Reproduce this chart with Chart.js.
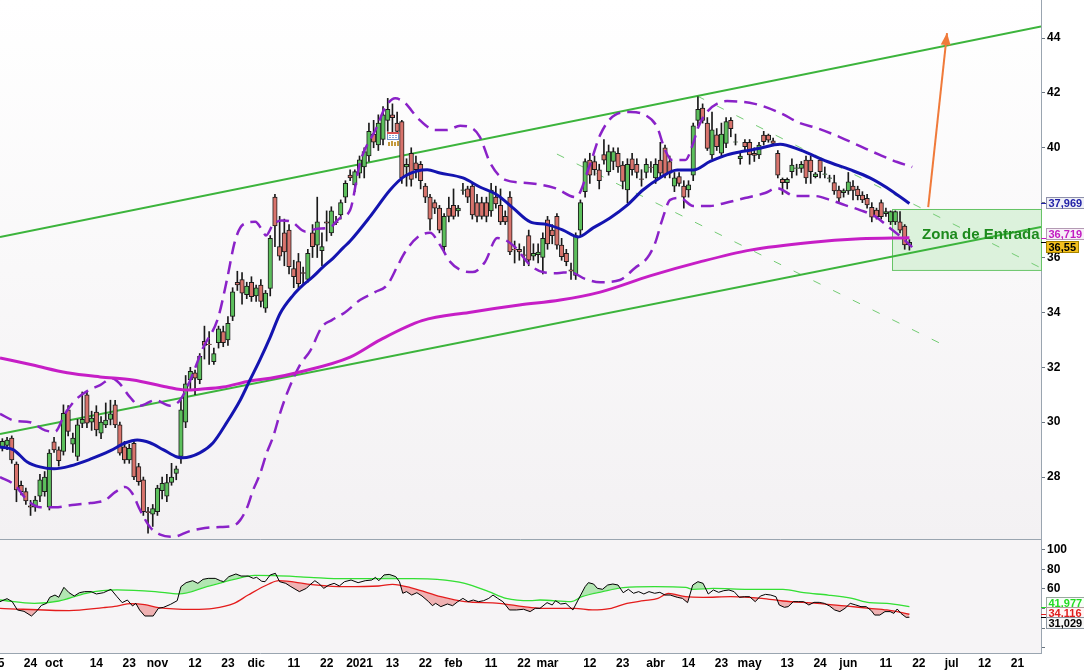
<!DOCTYPE html>
<html>
<head>
<meta charset="utf-8">
<script src="https://cdn.jsdelivr.net/npm/chart.js@4.4.0/dist/chart.umd.min.js"></script>
<style>
  html, body { margin: 0; padding: 0; background: #fff; }
  canvas { display: block; }
</style>
</head>
<body>
<canvas id="precio" width="1084" height="539"></canvas>
<canvas id="oscilador" width="1084" height="131"></canvas>
<script>
// Sesiones contadas desde el 1 oct 2020 (0). La primera vela es el 16 sep (-11)
const primerDia = -11

// Velas diarias
const apertura = [
  29.05, 29.15, 29.42, 28.47, 27.70, 27.47, 26.95, 26.90, 27.30, 27.47,
  26.90, 29.28, 28.99, 28.93, 30.45, 29.20, 28.75, 29.95, 31.00, 30.00,
  30.37, 29.60, 29.90, 30.10, 30.63, 29.90, 29.10, 28.62, 29.23, 28.38,
  27.90, 26.74, 26.65, 26.74, 27.50, 27.30, 27.80, 28.13, 28.75, 30.00,
  31.55, 31.80, 31.55, 32.95, 32.85, 32.20, 32.90, 33.30, 33.00, 33.85,
  35.10, 35.20, 34.65, 35.10, 34.60, 35.00, 34.15, 34.87, 38.20, 36.40,
  36.90, 37.00, 35.60, 35.85, 35.45, 35.20, 36.90, 36.45, 36.25, 37.30,
  36.90, 37.30, 37.55, 38.20, 39.00, 38.65, 39.07, 39.30, 39.70, 40.50,
  40.10, 40.30, 41.00, 41.20, 40.90, 40.95, 39.30, 39.80, 39.45, 39.40,
  38.60, 38.20, 38.00, 37.80, 36.40, 37.80, 37.90, 37.70, 38.45, 38.50,
  38.60, 38.00, 38.00, 38.00, 37.70, 38.20, 37.90, 37.50, 38.20, 36.30,
  36.30, 36.10, 36.80, 36.05, 36.10, 36.00, 37.37, 37.00, 37.50, 36.45,
  36.15, 35.55, 35.35, 37.00, 38.40, 39.55, 39.50, 39.20, 39.75, 39.13,
  39.50, 39.80, 39.37, 38.46, 39.60, 39.40, 38.87, 39.10, 39.30, 38.90,
  39.55, 40.00, 39.50, 38.60, 38.95, 38.60, 38.46, 39.00, 41.00, 41.45,
  40.90, 39.74, 40.47, 39.80, 40.16, 41.00, 40.20, 39.60, 40.20, 40.20,
  39.80, 39.74, 40.46, 40.46, 40.25, 39.80, 38.85, 38.73, 39.13, 39.25,
  39.25, 39.55, 39.55, 38.95, 39.55, 39.03, 38.88, 38.73, 38.46, 38.36,
  38.43, 38.60, 38.49, 38.28, 38.16, 37.83, 37.73, 38.00, 37.60, 37.30,
  37.30, 37.30, 37.15, 36.46
]
const maximo = [
  29.40, 29.45, 29.50, 28.55, 27.85, 27.60, 27.15, 27.30, 28.10, 28.20,
  29.00, 29.45, 29.10, 30.63, 30.60, 29.60, 30.10, 31.10, 31.10, 30.40,
  30.60, 30.20, 30.70, 30.80, 30.80, 30.00, 29.30, 29.20, 29.30, 28.50,
  28.00, 26.90, 27.00, 27.70, 28.00, 28.10, 28.50, 28.40, 30.80, 31.70,
  32.00, 31.90, 32.50, 33.50, 33.30, 32.70, 33.50, 33.50, 33.85, 34.90,
  35.50, 35.45, 35.10, 35.30, 35.00, 35.20, 34.80, 36.80, 38.30, 37.50,
  37.40, 37.20, 35.90, 36.15, 35.65, 36.30, 37.20, 38.20, 36.90, 37.70,
  37.85, 37.50, 38.10, 38.80, 39.20, 39.20, 39.70, 40.00, 40.90, 41.00,
  41.20, 41.50, 41.80, 41.60, 41.30, 41.00, 39.60, 40.00, 39.70, 39.50,
  38.70, 38.30, 38.10, 37.90, 37.60, 38.20, 38.50, 37.90, 38.70, 38.60,
  38.70, 38.30, 38.20, 38.20, 38.70, 38.60, 38.50, 37.70, 38.40, 36.60,
  36.50, 36.40, 37.00, 36.50, 36.50, 36.90, 37.50, 37.20, 37.60, 36.70,
  36.30, 35.80, 36.90, 38.10, 39.60, 39.80, 39.70, 39.40, 40.30, 40.10,
  40.00, 40.00, 39.50, 39.60, 39.80, 39.60, 39.20, 39.60, 39.50, 39.60,
  40.20, 40.10, 39.70, 39.10, 39.10, 38.80, 38.80, 40.90, 41.86, 41.60,
  41.10, 41.30, 40.70, 40.90, 41.10, 41.10, 40.50, 39.80, 40.30, 40.30,
  40.00, 40.20, 40.60, 40.50, 40.35, 39.90, 38.90, 38.90, 39.60, 39.40,
  39.50, 39.70, 39.70, 39.10, 39.60, 39.30, 39.00, 39.00, 38.60, 38.50,
  39.10, 38.80, 38.60, 38.40, 38.30, 38.00, 37.80, 38.10, 37.80, 37.70,
  37.70, 37.67, 37.20, 36.65
]
const minimo = [
  28.95, 29.00, 28.50, 27.10, 27.35, 27.00, 26.60, 26.75, 27.10, 27.30,
  26.80, 28.90, 28.40, 28.80, 29.50, 28.90, 28.60, 29.80, 29.80, 29.70,
  29.50, 29.40, 29.80, 29.90, 29.80, 28.80, 28.50, 28.50, 27.90, 27.70,
  26.60, 25.95, 26.20, 26.60, 27.20, 27.10, 27.70, 27.90, 28.50, 29.80,
  31.20, 31.00, 31.40, 32.30, 32.10, 32.10, 32.70, 32.75, 32.80, 33.70,
  34.80, 34.30, 34.50, 34.40, 34.40, 34.20, 34.00, 34.60, 36.40, 35.90,
  35.70, 35.40, 34.90, 34.90, 35.00, 35.10, 36.00, 36.00, 35.70, 36.60,
  36.80, 37.20, 37.40, 38.00, 38.80, 38.40, 38.90, 38.90, 39.50, 40.00,
  39.90, 40.10, 40.60, 40.50, 40.40, 38.70, 38.60, 38.60, 38.90, 38.50,
  38.00, 37.00, 37.60, 36.90, 36.20, 37.30, 37.40, 37.50, 38.30, 38.00,
  37.40, 37.30, 37.40, 37.30, 37.50, 37.80, 37.20, 37.20, 36.10, 35.80,
  35.90, 35.70, 35.70, 35.90, 35.80, 35.40, 36.30, 36.50, 36.30, 35.90,
  35.70, 35.20, 35.20, 36.80, 38.20, 38.70, 39.00, 38.50, 39.40, 39.00,
  39.20, 39.10, 38.50, 38.00, 39.00, 38.90, 38.60, 38.90, 39.10, 38.70,
  38.90, 38.90, 38.90, 38.40, 38.60, 37.80, 38.20, 38.80, 40.80, 40.90,
  39.90, 39.60, 39.90, 39.70, 40.00, 40.40, 40.10, 39.40, 39.90, 39.40,
  39.50, 39.60, 40.10, 40.20, 40.10, 38.90, 38.30, 38.50, 38.90, 39.00,
  39.10, 38.70, 38.70, 38.90, 38.90, 38.90, 38.75, 38.30, 38.00, 38.20,
  38.30, 38.10, 38.10, 38.00, 37.80, 37.30, 37.40, 37.40, 37.50, 37.20,
  37.20, 36.90, 36.30, 36.27
]
const cierre = [
  29.30, 29.35, 28.62, 27.53, 27.47, 27.13, 26.90, 27.16, 27.90, 28.00,
  28.87, 28.99, 28.60, 30.32, 29.66, 29.42, 29.90, 30.10, 29.96, 30.15,
  29.72, 30.00, 30.08, 30.30, 29.90, 28.87, 28.62, 29.05, 28.00, 27.83,
  26.74, 26.70, 26.85, 27.60, 27.77, 27.80, 28.00, 28.30, 30.45, 31.40,
  31.85, 31.60, 32.40, 32.80, 32.82, 32.50, 33.40, 32.90, 33.60, 34.75,
  35.00, 34.70, 34.96, 34.57, 34.90, 34.40, 34.70, 36.70, 37.15, 36.05,
  36.20, 35.67, 35.30, 35.05, 35.42, 36.15, 36.40, 37.30, 36.40, 37.25,
  37.70, 37.27, 38.00, 38.70, 38.90, 39.13, 39.56, 39.86, 40.60, 40.20,
  40.90, 41.20, 41.40, 41.10, 40.60, 38.90, 39.40, 38.85, 39.20, 38.80,
  38.20, 37.40, 37.80, 37.00, 37.50, 37.50, 37.50, 37.80, 38.47, 38.20,
  37.55, 37.50, 37.50, 37.50, 38.46, 37.95, 37.30, 37.30, 36.20, 36.28,
  36.20, 36.08, 35.90, 36.15, 36.20, 36.70, 36.50, 36.80, 36.45, 36.03,
  35.85, 35.50, 36.80, 38.00, 39.50, 39.00, 39.20, 38.80, 39.55, 39.86,
  39.86, 39.30, 38.77, 39.40, 39.20, 39.10, 38.85, 39.40, 39.28, 39.40,
  39.07, 39.00, 39.07, 38.90, 38.70, 38.20, 38.65, 40.80, 41.40, 41.00,
  39.98, 40.65, 40.04, 40.50, 40.95, 40.70, 40.22, 39.70, 40.04, 39.74,
  39.72, 40.10, 40.22, 40.28, 40.16, 39.00, 38.73, 38.85, 39.37, 39.27,
  39.40, 38.90, 39.13, 39.05, 39.13, 39.05, 38.90, 38.43, 38.16, 38.44,
  38.76, 38.45, 38.25, 38.10, 37.92, 37.47, 37.49, 37.49, 37.67, 37.67,
  37.67, 37.00, 36.46, 36.55
]

// Media de 20 sesiones (azul) [sesión, precio]
const media20 = [
  [-11.5, 29.1], [-8.7, 29.0], [-5.7, 28.55], [-3, 28.37], [0, 28.3], [3.4, 28.4], [7.7, 28.65],
  [11.9, 28.95], [15.1, 29.24], [17.7, 29.35], [20.4, 29.25], [23.2, 29.0], [26.2, 28.73], [27.4, 28.7],
  [31, 28.88], [33.8, 29.24], [36.8, 30.0], [39.6, 30.8], [41.7, 31.54], [43.8, 32.27], [46, 33.1],
  [48.1, 33.96], [50.9, 34.63], [53, 35.0], [55.1, 35.3], [57.2, 35.65], [59.4, 35.98], [61.5, 36.35],
  [63, 36.6], [67.2, 37.48], [71.5, 38.46], [74.3, 38.93], [77.2, 39.15], [79.4, 39.2], [82.1, 39.08],
  [87, 38.9], [90.6, 38.57], [94.3, 38.28], [97.7, 37.8], [101.3, 37.3], [104.9, 37.2], [108.3, 37.0],
  [111.5, 36.75], [114.7, 37.08], [118.3, 37.44], [121.9, 37.9], [125.3, 38.46], [128.9, 38.9],
  [132.6, 39.19], [136, 39.19], [139.6, 39.5], [143.2, 39.74], [146.6, 39.87], [150.2, 39.98],
  [154.5, 40.13], [158.7, 39.92], [164.5, 39.5], [169.4, 39.2], [173.6, 38.9], [178.5, 38.4], [182, 37.969]
]
// Bandas de Bollinger
const bollSup = [
  [-11.5, 30.3], [-8.3, 30.05], [-5.1, 30.0], [-1.9, 29.7], [0.2, 29.65], [2.3, 30.3], [4.5, 30.8],
  [7.2, 31.15], [9.8, 31.35], [12.3, 31.6], [14, 31.4], [16.2, 30.9], [18.3, 30.6], [21.5, 30.8],
  [24.7, 30.6], [26.8, 30.8], [28.9, 31.5], [31.7, 32.7], [34.9, 33.8], [36.8, 35.2], [38.5, 36.6],
  [40.2, 37.2], [42.8, 37.3], [44.3, 37.0], [45.1, 36.8], [46.6, 37.2], [48.5, 37.35], [50.6, 37.3],
  [53.4, 36.95], [56, 37.05], [58.7, 37.1], [60.9, 37.45], [63, 37.73], [65.1, 39.45], [68.7, 40.76],
  [70.4, 41.45], [72.6, 41.8], [74.7, 41.63], [77.4, 41.08], [81.1, 40.65], [83.6, 40.65], [86.4, 40.8],
  [88.9, 40.72], [90.6, 40.4], [92.8, 39.45], [96, 38.83], [100.6, 38.72], [106.6, 38.53], [111, 38.2],
  [114, 39.37], [116.2, 40.47], [119.4, 41.2], [122.6, 41.3], [125.7, 41.2], [128.3, 40.76], [130, 39.92],
  [131.5, 39.55], [134.3, 39.55], [136, 40.17], [137, 40.72], [138.9, 41.3], [143.2, 41.7], [149.1, 41.6],
  [154.5, 41.27], [158.7, 40.9], [162.3, 40.72], [167.2, 40.39], [171.5, 40.06], [175.7, 39.74],
  [179.4, 39.48], [182.6, 39.3]
]
const bollInf = [
  [-11.5, 28.0], [-8.3, 27.7], [-5.7, 27.16], [-2.9, 26.9], [0.2, 26.9], [3.8, 26.98], [7.7, 27.05],
  [10.9, 27.16], [13, 27.45], [15.1, 27.64], [16.6, 27.42], [18.3, 26.8], [20.4, 26.18], [22.6, 25.9],
  [25.3, 25.82], [28.9, 26.03], [32.1, 26.14], [35.3, 26.18], [38.1, 26.22], [39.6, 26.43], [41.1, 26.9],
  [42.3, 27.5], [43.8, 28.1], [45.3, 28.9], [46.6, 29.46], [48.1, 30.33], [49.6, 31.06], [52.3, 32.08],
  [54.5, 32.6], [57, 33.47], [59.1, 33.72], [61.9, 34.0], [65.1, 34.45], [68.3, 34.74], [70.9, 35.0],
  [73.2, 35.73], [74.7, 36.2], [77.4, 36.75], [80, 36.9], [82.1, 36.46], [84.3, 35.84], [86.4, 35.55],
  [89.1, 35.47], [91.7, 35.84], [94.3, 36.71], [96, 36.64], [98.1, 36.38], [101.3, 35.73], [104, 35.47],
  [107, 35.43], [109.8, 35.47], [113, 35.22], [116.2, 35.1], [120.4, 35.18], [123.6, 35.62],
  [126.2, 35.98], [127.9, 36.53], [129.4, 37.37], [131.1, 38.1], [133.2, 38.17], [136, 37.88],
  [139.6, 37.88], [142.8, 37.99], [147, 38.17], [151.3, 38.35], [153.8, 38.53], [157.7, 38.24],
  [161.9, 38.24], [165.1, 38.1], [168.3, 37.91], [171.5, 37.73], [174.7, 37.5], [177.9, 37.07],
  [180, 36.78], [182.6, 36.38]
]
// Media de 200 sesiones (magenta)
const media200 = [
  [-11.5, 32.34], [-4.5, 32.08], [2.8, 31.8], [9.8, 31.65], [16.8, 31.54], [24, 31.28], [28.3, 31.17],
  [31.1, 31.2], [36, 31.28], [41.7, 31.5], [46, 31.6], [52.3, 31.83], [63, 32.37], [69.4, 33.0],
  [78.3, 33.7], [88.3, 34.0], [99, 34.27], [107.7, 34.45], [116.2, 34.74], [126.8, 35.33],
  [137.4, 35.84], [148.1, 36.27], [160.9, 36.55], [171.5, 36.68], [182, 36.719]
]
// Canal alcista, líneas guía y flecha de objetivo
const tendenciaSup = [[-11.5, 36.75], [210, 44.42]]
const tendenciaInf = [[-11.5, 29.57], [210, 37.11]]
const guiaA = [[107, 39.77], [190.6, 32.7]]
const guiaB = [[136.8, 41.89], [210, 35.62]]
const flecha = [[186, 37.84], [190, 44.18]]
const zonaDias = [178.3, 210]
const zonaPrecios = [37.77, 35.55]
const textoZona = [197.2, 36.82]
const icono = [70.9, 40.57]

// Oscilador inferior
const osc = [
  [-11.5, 47], [-10, 50.1], [-8.9, 47], [-7.8, 38.5], [-6.4, 37.1], [-4.8, 32.3], [-3.6, 37.8], [-2.7, 43.2],
  [-1.6, 45.3], [-0.9, 51.5], [0.2, 53.8], [1, 51.5], [2.1, 61.7], [3.2, 56.2], [4.3, 52.8], [5.4, 56.2],
  [6.5, 57.3], [7.9, 57.3], [9, 54.9], [10.5, 56.2], [12.1, 59.7], [13.4, 52.1], [14.5, 46], [15.6, 48.7],
  [16.7, 42.6], [17.4, 45.3], [18.2, 38.5], [19.3, 32.3], [21.1, 32.3], [22.2, 40.2], [23.3, 41.2],
  [24.8, 44.3], [26.2, 48], [27, 62.4], [28.1, 66.5], [29.5, 68.5], [30.6, 65.8], [31.7, 69.9], [32.8, 70.9],
  [34.3, 70.9], [35.4, 68.5], [36.1, 67.5], [37.2, 72.7], [38.7, 75.4], [39.8, 73.3], [41.3, 73.3],
  [42.4, 70.9], [43.1, 72], [44.2, 67.9], [44.9, 67.5], [46, 74.4], [47.1, 76.1], [48, 67.5], [49.3, 65.8],
  [50.4, 62.4], [52.2, 57.3], [53.7, 60.7], [54.4, 64.1], [55.5, 68.5], [56.3, 65.8], [57.4, 60.7],
  [58.5, 64.1], [59.6, 65.8], [60.7, 63.1], [61.8, 67.5], [63.2, 69.2], [64.7, 66.5], [66.2, 68.5],
  [67.6, 69.2], [68.4, 72], [69.1, 68.5], [70.2, 74.4], [71.3, 75], [72.7, 72.7], [73.5, 67.5], [74.2, 55.6],
  [75, 57.3], [76.1, 53.8], [77.2, 56.2], [78.3, 52.8], [79.7, 47], [80.5, 42.9], [81.2, 45.3], [82.3, 41.9],
  [83.7, 44.6], [84.8, 42.9], [85.9, 47], [87, 50.4], [88.1, 47], [89.2, 48.7], [90.3, 47], [91.4, 48],
  [92.5, 50.4], [93.4, 53.8], [94.4, 50.4], [95.5, 47], [96.9, 38.5], [98.4, 38.5], [99.9, 39.2],
  [101.3, 36.8], [102.4, 40.2], [103.4, 40.2], [104.9, 46], [106, 43.6], [106.7, 48], [107.8, 44.6],
  [108.9, 45.3], [110.4, 38.5], [111.5, 48.7], [113, 62.4], [113.7, 66.5], [114.8, 65.1], [115.6, 60.7],
  [116.7, 59.7], [117.8, 64.1], [118.9, 65.1], [120, 64.1], [121.1, 56.2], [122.2, 59.7], [123.3, 55.6],
  [124.4, 57.3], [125.5, 54.9], [126.6, 57.3], [127.8, 55.6], [128.9, 56.6], [130, 53.8], [131.1, 53.8],
  [132.6, 51.5], [133.7, 50.4], [134.8, 46], [135.9, 64.1], [137, 67.5], [138.1, 65.8], [139.2, 54.9],
  [140.3, 59], [141.4, 56.6], [142.5, 58.3], [143.6, 59], [144.7, 57.3], [145.8, 51.5], [146.9, 52.1],
  [148, 52.1], [149.2, 47], [150.3, 52.8], [151.4, 54.5], [152.5, 53.8], [153.6, 52.1], [154.3, 43.6],
  [155.4, 41.2], [156.2, 41.9], [157.3, 47], [158.4, 47], [159.5, 47], [160.6, 43.6], [161.7, 46.3],
  [162.8, 46.3], [163.9, 45.3], [165, 42.6], [166.1, 38.5], [167.2, 36.8], [168.3, 40.2], [169.4, 45.3],
  [170.6, 43.6], [171.7, 41.9], [172.8, 41.9], [173.9, 37.8], [174.6, 33.3], [175.7, 33.3], [176.8, 36.8],
  [177.9, 36.8], [178.7, 35], [179.4, 39.5], [180.2, 35], [181.3, 30.9], [182, 31.029]
]
const oscVerde = [
  [-11.5, 48.7], [-4.2, 45.3], [1, 47.7], [6.8, 55.6], [13.4, 59], [21.5, 57.3], [26.6, 54.9], [32.5, 62.4],
  [38.3, 69.9], [42.7, 74], [47.1, 73.7], [54.4, 72], [61.8, 70.6], [69.1, 70.6], [76.4, 70.6], [81.5, 69.9],
  [87.4, 65.8], [92.5, 57.3], [96.2, 50.4], [101.3, 48], [103.4, 48.7], [110, 47], [112.3, 52.1],
  [116.7, 57.3], [121.1, 61.4], [127.8, 62.4], [134.4, 61.7], [135.9, 59.7], [140.3, 60.7], [147.7, 59.7],
  [155.1, 59.7], [159.5, 56.2], [164.7, 53.8], [169.8, 50.4], [173.5, 46], [177.2, 45.3], [182, 41.977]
]
const oscRojo = [
  [-11.5, 40.2], [3.2, 37.8], [10.5, 40.9], [13.4, 42.5], [16.3, 45], [19.3, 44], [22.2, 41], [29.5, 39.2],
  [33.9, 40.2], [38.3, 45.3], [41.3, 53.8], [45.7, 65.1], [47.8, 68.5], [54.4, 64.8], [61.8, 62.4],
  [69.1, 63.1], [72, 64.8], [76.4, 60.7], [82.3, 52.1], [87.4, 47], [94.7, 45.3], [99.9, 41.9], [103.4, 40.2],
  [110.8, 40.2], [114.5, 38.5], [118.2, 39.8], [121.9, 45.3], [125.5, 48], [128.5, 50.4], [130.7, 55.6],
  [134.4, 52.1], [138.1, 51.5], [144, 52.1], [150.6, 50.4], [155.1, 47.7], [162.4, 45.3], [168.3, 42.6],
  [173.5, 40.2], [177.2, 38.5], [182, 34.116]
]

// Ejes
const ticksPrecio = [28, 30, 32, 34, 36, 38, 40, 42, 44]
const ticksOsc = [0, 10, 20, 30, 40, 50, 60, 70, 80, 90, 100, 110]
const etiquetasOsc = [60, 80, 100]
const diasEtiqueta = [-12, -5, 0, 9, 16, 22, 30, 37, 43, 51, 58, 65, 72, 79, 85, 93, 100, 105, 114, 121,
  128, 135, 142, 148, 156, 163, 169, 177, 184, 191, 198, 205]
const textoEtiqueta = ['15', '24', 'oct', '14', '23', 'nov', '12', '23', 'dic', '11', '22', '2021', '13', '22',
  'feb', '11', '22', 'mar', '12', '23', 'abr', '14', '23', 'may', '13', '24', 'jun', '11', '22', 'jul', '12', '21']
const ultimosPrecio = [37.969, 36.719, 36.55]
const ultimosOsc = [41.977, 34.116, 31.029]

const xMin = -11.5, xMax = 210
const yMin = 25.742, yMax = 45.385
const oscMin = -5.64, oscMax = 111.28

const fuente = '"Liberation Sans", Arial, sans-serif'
Chart.defaults.font.family = fuente
const gris = '#9aa5b0'

const pares = arr => arr.map(([x, y]) => ({x, y}))
const dias = apertura.map((_, i) => primerDia + i)

// Fondo de cada panel
const fondo = {
  id: 'fondo',
  beforeDraw(chart, args, opts) {
    const {ctx, chartArea: a} = chart
    ctx.save()
    if (opts.degradado) {
      const g = ctx.createLinearGradient(0, a.top, 0, a.bottom)
      g.addColorStop(0, '#ffffff')
      g.addColorStop(1, '#f3f1f3')
      ctx.fillStyle = g
    } else {
      ctx.fillStyle = opts.color
    }
    ctx.fillRect(a.left, a.top, a.right - a.left, a.bottom - a.top)
    ctx.restore()
  },
  afterDraw(chart, args, opts) {
    if (!opts.bordeSup) return
    const {ctx, chartArea: a} = chart
    ctx.save()
    ctx.strokeStyle = gris
    ctx.lineWidth = 1
    ctx.beginPath()
    ctx.moveTo(a.left, a.top + 0.5)
    ctx.lineTo(a.right, a.top + 0.5)
    ctx.stroke()
    ctx.restore()
  }
}

// Zona de entrada, punta de flecha e icono
const zona = {
  id: 'zona',
  beforeDatasetsDraw(chart) {
    const {ctx, scales: {x, y}} = chart
    const x0 = x.getPixelForValue(zonaDias[0]), x1 = x.getPixelForValue(zonaDias[1])
    const y0 = y.getPixelForValue(zonaPrecios[0]), y1 = y.getPixelForValue(zonaPrecios[1])
    ctx.save()
    ctx.fillStyle = 'rgba(160, 228, 160, 0.32)'
    ctx.fillRect(x0, y0, x1 - x0, y1 - y0)
    ctx.strokeStyle = '#66c466'
    ctx.lineWidth = 1
    ctx.strokeRect(Math.round(x0) + 0.5, Math.round(y0) + 0.5, x1 - x0, y1 - y0)
    ctx.restore()
  },
  afterDatasetsDraw(chart) {
    const {ctx, scales: {x, y}} = chart
    ctx.save()
    // texto
    ctx.font = `bold 15px ${fuente}`
    ctx.fillStyle = '#1d8a1d'
    ctx.textAlign = 'center'
    ctx.textBaseline = 'middle'
    ctx.fillText('Zona de Entrada', x.getPixelForValue(textoZona[0]), y.getPixelForValue(textoZona[1]))
    // punta de flecha
    const ax = x.getPixelForValue(flecha[0][0]), ay = y.getPixelForValue(flecha[0][1])
    const bx = x.getPixelForValue(flecha[1][0]), by = y.getPixelForValue(flecha[1][1])
    const ang = Math.atan2(by - ay, bx - ax)
    ctx.translate(bx, by)
    ctx.rotate(ang)
    ctx.fillStyle = '#f07a3a'
    ctx.beginPath()
    ctx.moveTo(0, 0)
    ctx.lineTo(-12, -5)
    ctx.lineTo(-12, 5)
    ctx.closePath()
    ctx.fill()
    ctx.restore()
    // icono de calendario
    const px = Math.round(x.getPixelForValue(icono[0])), py = Math.round(y.getPixelForValue(icono[1]))
    ctx.save()
    ctx.fillStyle = '#ffffff'
    ctx.fillRect(px, py, 12, 8)
    ctx.strokeStyle = '#7090c8'
    ctx.strokeRect(px + 0.5, py + 0.5, 11, 7)
    ctx.fillStyle = '#d85050'
    ctx.fillRect(px, py, 12, 2)
    ctx.fillStyle = '#8aa8d8'
    for (let i = 0; i < 3; i++) for (let j = 0; j < 2; j++) ctx.fillRect(px + 2 + i * 3, py + 3 + j * 2, 2, 1)
    ctx.fillStyle = '#c49a3c'
    ctx.fillRect(px + 1, py + 10, 2, 4)
    ctx.fillRect(px + 4, py + 9, 2, 5)
    ctx.fillRect(px + 7, py + 10, 2, 4)
    ctx.fillRect(px + 10, py + 9, 2, 5)
    ctx.restore()
  }
}

// Etiquetas del último valor sobre el eje derecho
const etiquetas = {
  id: 'etiquetas',
  afterDraw(chart, args, opts) {
    const {ctx, chartArea: a, scales: {y}} = chart
    const items = opts.valores.map((v, i) => ({v, yReal: y.getPixelForValue(v), e: opts.estilos[i], i}))
    const orden = [...items].sort((p, q) => p.yReal - q.yReal)
    const pos = orden.map(it => it.yReal)
    for (let k = 0; k < 8; k++) {
      for (let i = 1; i < pos.length; i++) {
        if (pos[i] - pos[i - 1] < opts.separacion) {
          const m = (pos[i] + pos[i - 1]) / 2
          pos[i - 1] = m - opts.separacion / 2
          pos[i] = m + opts.separacion / 2
        }
      }
    }
    orden.forEach((it, k) => { it.y = pos[k] })
    ctx.save()
    ctx.font = `bold 11px ${fuente}`
    ctx.textBaseline = 'middle'
    items.forEach(it => {
      const texto = String(it.v).replace('.', ',')
      const w = Math.ceil(ctx.measureText(texto).width) + 5
      const bx = a.right + 5
      const by = Math.round(it.y) - 6
      ctx.strokeStyle = it.e.color
      ctx.lineWidth = 1
      ctx.beginPath()
      ctx.moveTo(a.right, Math.round(it.yReal) + 0.5)
      ctx.lineTo(a.right + 5, Math.round(it.yReal) + 0.5)
      ctx.stroke()
      ctx.fillStyle = it.e.fondo
      ctx.fillRect(bx, by, w, 12)
      ctx.strokeStyle = it.e.borde
      ctx.strokeRect(bx + 0.5, by + 0.5, w - 1, 11)
      ctx.fillStyle = it.e.color
      ctx.fillText(texto, bx + 2.5, by + 6.5)
    })
    ctx.restore()
  }
}

const verde = '#5cbf5c', rojo = '#d8736c'
const linea = (datos, color, ancho, extra) => Object.assign({
  type: 'line', data: pares(datos), borderColor: color, borderWidth: ancho,
  pointRadius: 0, fill: false, cubicInterpolationMode: 'monotone'
}, extra)

new Chart(document.getElementById('precio'), {
  type: 'bar',
  data: {
    datasets: [
      linea(tendenciaSup, '#3cb43c', 2, {order: 8}),
      linea(tendenciaInf, '#3cb43c', 2, {order: 8}),
      linea(guiaA, '#74cc74', 1, {borderDash: [8, 14], order: 8}),
      linea(guiaB, '#74cc74', 1, {borderDash: [8, 14], order: 8}),
      {
        type: 'bar', order: 6, grouped: false, barThickness: 1,
        data: dias.map((d, i) => ({x: d, y: [minimo[i], maximo[i]]})),
        backgroundColor: '#1a1a1a'
      },
      {
        type: 'bar', order: 5, grouped: false, barThickness: 4.5,
        data: dias.map((d, i) => ({x: d, y: [apertura[i], cierre[i]]})),
        backgroundColor: dias.map((d, i) => cierre[i] >= apertura[i] ? verde : rojo),
        borderColor: '#1a1a1a', borderWidth: 1, borderSkipped: false
      },
      linea(bollSup, '#8a22c8', 2.5, {borderDash: [13, 7], order: 4}),
      linea(bollInf, '#8a22c8', 2.5, {borderDash: [13, 7], order: 4}),
      linea(media200, '#c61ec6', 3, {order: 3}),
      linea(media20, '#1414b0', 3, {order: 2}),
      linea(flecha, '#f07a3a', 2, {order: 1})
    ]
  },
  options: {
    responsive: false, animation: false, devicePixelRatio: 1, events: [],
    layout: {padding: 0},
    plugins: {
      legend: {display: false}, tooltip: {enabled: false},
      fondo: {degradado: true},
      etiquetas: {
        valores: ultimosPrecio, separacion: 13,
        estilos: [
          {color: '#2222a8', fondo: '#eff0f7', borde: '#8e90aa'},
          {color: '#c21cc2', fondo: '#f7eff7', borde: '#b49ab4'},
          {color: '#000000', fondo: '#f4c01e', borde: '#a68400'}
        ]
      }
    },
    scales: {
      x: {type: 'linear', min: xMin, max: xMax, display: false, offset: false},
      y: {
        type: 'linear', position: 'right', min: yMin, max: yMax,
        afterBuildTicks: s => { s.ticks = ticksPrecio.map(v => ({value: v})) },
        afterFit: s => { s.width = 43; s.paddingTop = 0; s.paddingBottom = 0 },
        grid: {drawOnChartArea: false, drawTicks: true, tickLength: 4, color: '#6a7580'},
        border: {display: true, color: gris},
        ticks: {color: '#000', font: {size: 12, weight: 'bold'}, padding: 2}
      }
    }
  },
  plugins: [fondo, zona, etiquetas]
})

new Chart(document.getElementById('oscilador'), {
  type: 'line',
  data: {
    datasets: [
      linea(oscVerde, '#2ee02e', 1.3, {order: 2}),
      linea(oscRojo, '#e41c1c', 1.3, {order: 2}),
      linea(osc, '#000000', 1, {
        cubicInterpolationMode: 'default', tension: 0, order: 0,
        fill: {target: 0, above: 'rgba(110, 215, 110, 0.5)', below: 'rgba(0, 0, 0, 0)'}
      }),
      linea(osc, 'rgba(0, 0, 0, 0)', 0, {
        cubicInterpolationMode: 'default', tension: 0, order: 3,
        fill: {target: 1, above: 'rgba(0, 0, 0, 0)', below: 'rgba(232, 110, 110, 0.5)'}
      })
    ]
  },
  options: {
    responsive: false, animation: false, devicePixelRatio: 1, events: [],
    layout: {padding: 0},
    plugins: {
      legend: {display: false}, tooltip: {enabled: false},
      fondo: {color: '#f6f4f6', bordeSup: true},
      etiquetas: {
        valores: ultimosOsc, separacion: 10,
        estilos: [
          {color: '#22dc22', fondo: '#f7fff7', borde: '#9aa8a0'},
          {color: '#e01c1c', fondo: '#fff5f5', borde: '#b0a0a0'},
          {color: '#000000', fondo: '#f6f6f6', borde: '#8c96a0'}
        ]
      }
    },
    scales: {
      x: {
        type: 'linear', min: xMin, max: xMax, offset: false,
        afterBuildTicks: s => { s.ticks = diasEtiqueta.map(v => ({value: v})) },
        afterFit: s => { s.height = 17; s.paddingLeft = 0; s.paddingRight = 0 },
        grid: {display: false, drawTicks: false},
        border: {display: true, color: gris},
        ticks: {
          autoSkip: false, maxRotation: 0, minRotation: 0, padding: 3,
          color: '#000', font: {size: 12, weight: 'bold'},
          callback: (v, i) => textoEtiqueta[i]
        }
      },
      y: {
        type: 'linear', position: 'right', min: oscMin, max: oscMax,
        afterBuildTicks: s => { s.ticks = ticksOsc.map(v => ({value: v})) },
        afterFit: s => { s.width = 43; s.paddingTop = 0; s.paddingBottom = 0 },
        grid: {drawOnChartArea: false, drawTicks: true, tickLength: 4, color: '#6a7580'},
        border: {display: true, color: gris},
        ticks: {
          color: '#000', font: {size: 12, weight: 'bold'}, padding: 2,
          callback: v => etiquetasOsc.includes(v) ? String(v) : ''
        }
      }
    }
  },
  plugins: [fondo, etiquetas]
})
</script>
</body>
</html>
